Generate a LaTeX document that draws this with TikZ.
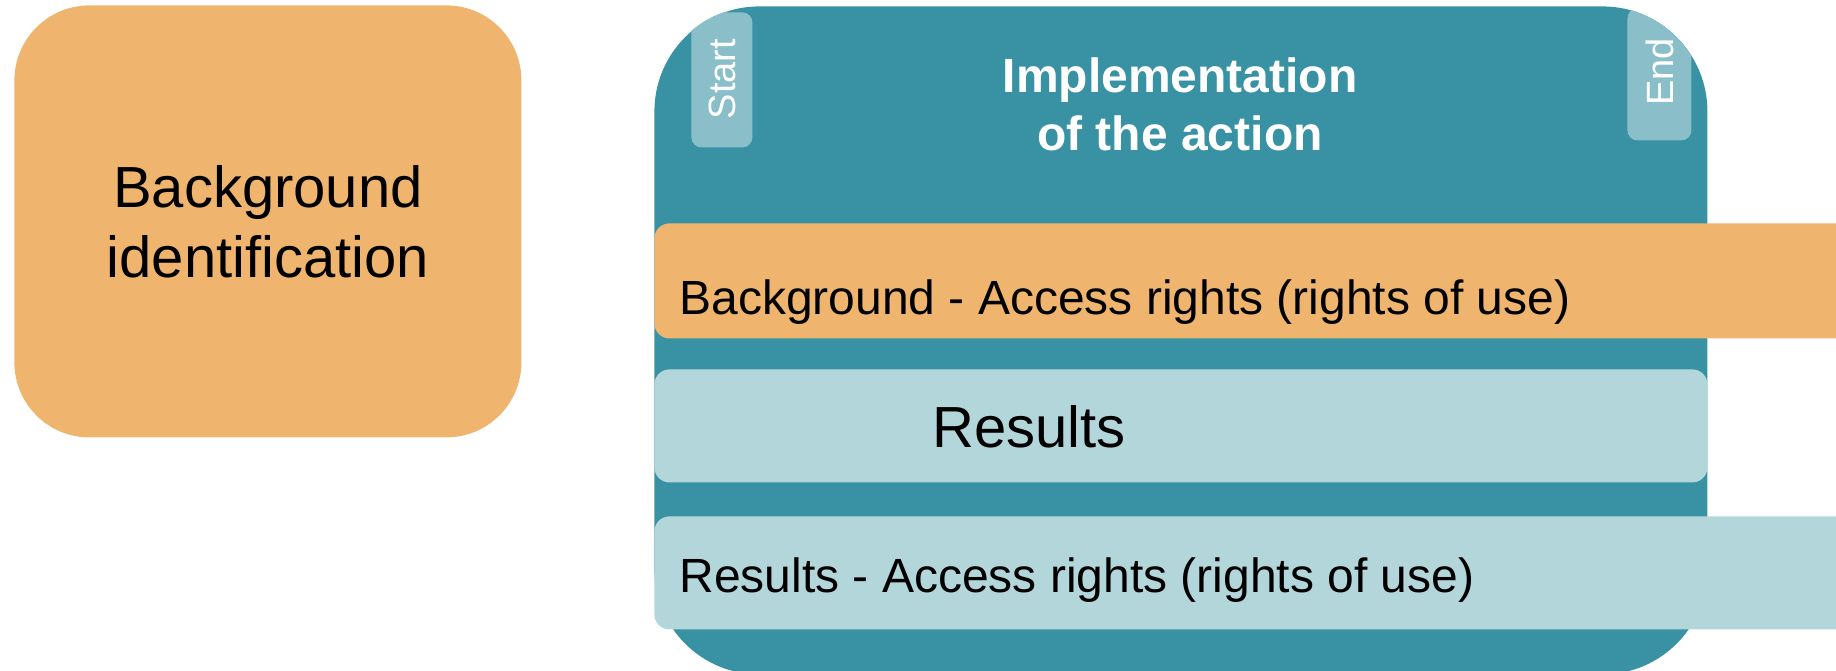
\documentclass[tikz,border=0pt]{standalone}
\usepackage{fontspec}
\setmainfont{Liberation Sans}
\definecolor{bgorange}{HTML}{EFB56F}
\definecolor{actteal}{HTML}{3892A4}
\definecolor{reslight}{HTML}{B3D6DB}
\definecolor{tabteal}{HTML}{8ABFC9}
\begin{document}
\begin{tikzpicture}[x=0.5pt,y=-0.5pt,
    panel/.style ={inner sep=0pt, anchor=north west, rounded corners=7.5pt},
    tabbox/.style ={panel, fill=tabteal, rounded corners=5pt},
    tabtext/.style ={inner sep=0pt, rotate=90, text=white, font=\fontsize{19}{22}\selectfont},
    bartext/.style ={inner sep=0pt, anchor=base west, font=\fontsize{24}{29}\selectfont}]
   \useasboundingbox (0,0) rectangle (1836,670);
   % left box
   \node[panel, fill=bgorange, rounded corners=37.5pt, minimum width=253.5pt, minimum height=216pt,
         align=center, font=\fontsize{29}{35}\selectfont] (ident) at (14,5) {Background\\identification};
   % action box
   \node[panel, fill=actteal, rounded corners=52.5pt, minimum width=526.5pt, minimum height=334pt] (action) at (654,6) {};
   \begin{scope}
     \clip[rounded corners=52.5pt] (654,6) rectangle (1707,674);
     \node[tabbox, minimum width=30.5pt, minimum height=67.5pt] (starttab) at (691,12) {};
     \node[tabbox, minimum width=32pt, minimum height=66pt] (endtab) at (1627,8) {};
   \end{scope}
   \node[tabtext] (start) at (722,79) {Start};
   \node[tabtext] (end) at (1660,72) {End};
   \node[inner sep=0pt, text=white, align=center, font=\bfseries\fontsize{24}{29}\selectfont] (title) at (1180,104) {Implementation\\of the action};
   % bars
   \node[panel, fill=bgorange, minimum width=625pt, minimum height=57.5pt] (bgbar) at (654,223) {};
   \node[panel, fill=reslight, minimum width=526.5pt, minimum height=56.5pt] (resbox) at (654,369) {};
   \node[panel, fill=reslight, minimum width=625pt, minimum height=56.5pt] (resbar) at (654,516) {};
   \node[bartext] (bgtext) at (679,314) {Background - Access rights (rights of use)};
   \node[bartext, anchor=base, font=\fontsize{29}{34}\selectfont] (restext) at (1029,447) {Results};
   \node[bartext] (restext2) at (679,592) {Results - Access rights (rights of use)};
\end{tikzpicture}
\end{document}
